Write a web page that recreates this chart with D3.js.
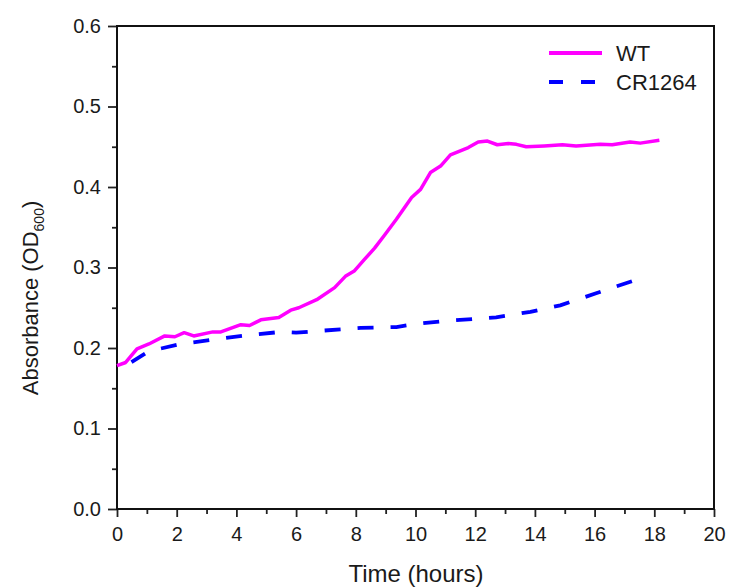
<!DOCTYPE html>
<html>
<head>
<meta charset="utf-8">
<script src="https://cdn.jsdelivr.net/npm/d3@7"></script>
<style>
  body { margin: 0; background: #fff; }
  svg { font-family: "Liberation Sans", Arial, sans-serif; }
</style>
</head>
<body>
<div id="chart"></div>
<script>
// growth curves
var wtTime = [0, 0.29, 0.67, 1.07, 1.6, 1.94, 2.25, 2.57, 3.21, 3.48, 4.15, 4.44, 4.82, 5.42, 5.82, 6.09, 6.69, 7.29, 7.65, 7.96, 8.29, 8.63, 8.96, 9.36, 9.87, 10.17, 10.5, 10.84, 11.17, 11.77, 12.1, 12.41, 12.74, 13.11, 13.38, 13.71, 14.31, 14.92, 15.38, 16.19, 16.59, 17.19, 17.53, 18.17]
var wtOD = [0.178, 0.182, 0.199, 0.205, 0.215, 0.214, 0.219, 0.215, 0.220, 0.220, 0.229, 0.228, 0.235, 0.238, 0.247, 0.250, 0.260, 0.275, 0.289, 0.296, 0.310, 0.324, 0.340, 0.360, 0.387, 0.397, 0.418, 0.426, 0.440, 0.449, 0.456, 0.457, 0.4525, 0.454, 0.453, 0.450, 0.451, 0.4525, 0.451, 0.453, 0.4525, 0.456, 0.4545, 0.458]

var crTime = [0, 0.47, 1.07, 2.14, 3.34, 4.41, 5.49, 6.0, 6.69, 8.16, 9.36, 10.03, 11.1, 12.7, 13.85, 14.85, 16.05, 17.25]
var crOD = [0.178, 0.182, 0.196, 0.205, 0.211, 0.216, 0.220, 0.219, 0.221, 0.225, 0.226, 0.230, 0.234, 0.238, 0.245, 0.253, 0.268, 0.283]

var seriesNames = ["WT", "CR1264"]
var seriesColors = ["#ff00ff", "#0000ff"]
var xTicks = [0, 2, 4, 6, 8, 10, 12, 14, 16, 18, 20]
var yTicks = [0.0, 0.1, 0.2, 0.3, 0.4, 0.5, 0.6]

var width = 729, height = 587
var margin = { top: 26, right: 15, bottom: 78, left: 117 }
var w = width - margin.left - margin.right,
  h = height - margin.top - margin.bottom

var svg = d3.select("#chart")
  .append("svg")
  .attr("width", width)
  .attr("height", height)

var g = svg.append("g")
  .attr("transform", "translate(" + margin.left + "," + margin.top + ")")

var x = d3.scaleLinear().domain([0, 20]).range([0, w])
var y = d3.scaleLinear().domain([0, 0.6]).range([h, 0])

// minor ticks
g.append("g")
  .attr("transform", "translate(0," + h + ")")
  .call(d3.axisBottom(x).tickValues(d3.range(1, 20, 2)).tickSize(5).tickFormat(""))
  .call(function (a) { a.select(".domain").remove() })
g.append("g")
  .call(d3.axisLeft(y).tickValues([0.05, 0.15, 0.25, 0.35, 0.45, 0.55]).tickSize(5).tickFormat(""))
  .call(function (a) { a.select(".domain").remove() })

// major axes
g.append("g")
  .attr("transform", "translate(0," + h + ")")
  .call(d3.axisBottom(x).tickValues(xTicks).tickSize(8).tickPadding(10).tickFormat(d3.format("d")))
g.append("g")
  .call(d3.axisLeft(y).tickValues(yTicks).tickSize(9).tickPadding(7).tickFormat(d3.format(".1f")))

g.selectAll(".tick line").attr("stroke", "#222").attr("stroke-width", 1.8)
g.selectAll(".domain").remove()
g.selectAll(".tick text").attr("font-size", 20).attr("fill", "#1a1a1a")
  .attr("font-family", "'Liberation Sans', Arial, sans-serif")

// frame
g.append("rect")
  .attr("x", 0).attr("y", 0)
  .attr("width", w).attr("height", h)
  .attr("fill", "none")
  .attr("stroke", "#111")
  .attr("stroke-width", 2)

// lines
var line = d3.line()
  .x(function (d) { return x(d[0]) })
  .y(function (d) { return y(d[1]) })

var wtData = d3.zip(wtTime, wtOD)
var crData = d3.zip(crTime, crOD)

g.append("path")
  .datum(wtData)
  .attr("d", line)
  .attr("fill", "none")
  .attr("stroke", seriesColors[0])
  .attr("stroke-width", 3.5)
  .attr("stroke-linejoin", "round")

var crPath = g.append("path")
  .datum(crData)
  .attr("d", line)
  .attr("fill", "none")
  .attr("stroke", seriesColors[1])
  .attr("stroke-width", 3.8)
  .attr("stroke-dasharray", "16,17")

// shift the dashes so the line finishes on a dash, like the original
var len = crPath.node().getTotalLength()
var off = ((16 - len) % 33 + 33) % 33
crPath.attr("stroke-dashoffset", off)

// legend
var legend = g.append("g").attr("transform", "translate(432,27)")
seriesNames.forEach(function (name, i) {
  var row = legend.append("g").attr("transform", "translate(0," + (i * 29) + ")")
  row.append("line")
    .attr("x1", 0).attr("x2", 53)
    .attr("stroke", seriesColors[i])
    .attr("stroke-width", 3.8)
    .attr("stroke-dasharray", i == 1 ? "14,18" : null)
  row.append("text")
    .attr("x", 67).attr("y", 8)
    .attr("font-size", 22)
    .attr("fill", "#1a1a1a")
    .text(name)
})

// axis titles
svg.append("text")
  .attr("x", 416)
  .attr("y", 582)
  .attr("text-anchor", "middle")
  .attr("font-size", 24)
  .attr("fill", "#1a1a1a")
  .text("Time (hours)")

var yt = svg.append("text")
  .attr("transform", "translate(38," + 298 + ") rotate(-90)")
  .attr("text-anchor", "middle")
  .attr("font-size", 22)
  .attr("fill", "#1a1a1a")
yt.append("tspan").text("Absorbance (OD")
yt.append("tspan").attr("font-size", 14).attr("dy", 6).text("600")
yt.append("tspan").attr("dy", -6).text(")")
</script>
</body>
</html>
